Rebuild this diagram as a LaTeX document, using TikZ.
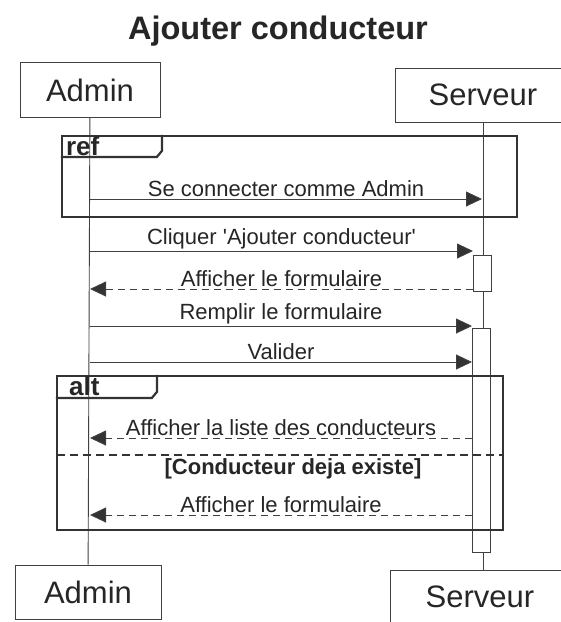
\documentclass[tikz,border=0pt]{standalone}
\usepackage{fontspec}
\setmainfont{Liberation Sans}
\usetikzlibrary{arrows.meta}
\tikzset{
  lifebox/.style={draw=black!75, line width=0.9pt, fill=white, inner sep=0pt,
    text=black!85, font=\fontsize{31}{36}\selectfont},
  frame/.style={draw=black!80, line width=2.2pt, inner sep=0pt},
  act/.style={draw=black!75, line width=0.9pt, fill=white, inner sep=0pt, minimum width=18pt},
  msg/.style={draw=black!75, line width=0.9pt, -{Triangle[length=16pt, width=15pt, fill=black!80]}},
  reply/.style={msg, dash pattern=on 7pt off 5pt},
  lbl/.style={text=black!85, inner sep=1.5pt, font=\fontsize{22}{26}\selectfont},
  tag/.style={text=black!85, inner sep=0pt, font=\bfseries\fontsize{26}{30}\selectfont}
}

\begin{document}
\begin{tikzpicture}[x=1pt, y=-1pt]
  \useasboundingbox[fill=white] (0,0) rectangle (561,622);

  \node[text=black!85, font=\bfseries\fontsize{32.5}{38}\selectfont] at (278,31) (title) {Ajouter conducteur};

  % participants
  \node[lifebox, minimum width=140pt, minimum height=55pt] at (90,90) (admin_top) {Admin};
  \node[lifebox, minimum width=176pt, minimum height=54pt] at (483,95) (srv_top) {Serveur};
  \node[lifebox, minimum width=146pt, minimum height=54pt] at (88,592) (admin_bot) {Admin};
  \node[lifebox, minimum width=180pt, minimum height=54pt] at (480,597) (srv_bot) {Serveur};

  \draw[black!75, line width=0.9pt] (admin_top) -- (admin_bot);
  \draw[black!75, line width=0.9pt] (srv_top.south) -- (srv_top.south |- srv_bot.north);

  % ref frame
  \node[frame, minimum width=455pt, minimum height=81pt] at (289.5,176.5) (ref_frame) {};
  \draw[frame] (ref_frame.north west) ++(0,22) -- ++(96,0) -- ++(5,-6) -- ++(0,-16);
  \node[tag, anchor=north west] at ([shift={(5,2)}]ref_frame.north west) (ref_tag) {ref};

  % activations
  \node[act, minimum height=36pt] at (482,273) (act_one) {};
  \node[act, minimum height=224pt] at (481,440) (act_two) {};

  % alt frame
  \node[frame, minimum width=446pt, minimum height=154pt] at (280,453) (alt_frame) {};
  \draw[frame] (alt_frame.north west) ++(0,23) -- ++(96,0) -- ++(5,-6) -- ++(0,-17);
  \node[tag, anchor=north west] at ([shift={(13,2)}]alt_frame.north west) (alt_tag) {alt};
  \coordinate (sep_l) at (57,455);
  \coordinate (sep_r) at (503,455);
  \draw[black!80, line width=1.8pt, dash pattern=on 8pt off 5pt] (sep_l) -- (sep_r);
  \node[tag, font=\bfseries\fontsize{22}{26}\selectfont] at (293,469) (guard) {[Conducteur deja existe]};

  % message ends
  \coordinate (adm_1) at (90,199);  \coordinate (srv_1) at (482,199);
  \coordinate (adm_2) at (90,251);  \coordinate (srv_2) at (473,251);
  \coordinate (adm_3) at (90,289);  \coordinate (srv_3) at (473,289);
  \coordinate (adm_4) at (90,326);  \coordinate (srv_4) at (472,326);
  \coordinate (adm_5) at (90,362);  \coordinate (srv_5) at (472,362);
  \coordinate (adm_6) at (90,438);  \coordinate (srv_6) at (472,438);
  \coordinate (adm_7) at (90,515);  \coordinate (srv_7) at (472,515);

  \draw[msg] (adm_1) -- node[lbl, above] {Se connecter comme Admin} (srv_1);
  \draw[msg] (adm_2) -- node[lbl, above] {Cliquer \textquotesingle Ajouter conducteur\textquotesingle} (srv_2);
  \draw[reply] (srv_3) -- node[lbl, above] {Afficher le formulaire} (adm_3);
  \draw[msg] (adm_4) -- node[lbl, above] {Remplir le formulaire} (srv_4);
  \draw[msg] (adm_5) -- node[lbl, above] {Valider} (srv_5);
  \draw[reply] (srv_6) -- node[lbl, above] {Afficher la liste des conducteurs} (adm_6);
  \draw[reply] (srv_7) -- node[lbl, above] {Afficher le formulaire} (adm_7);
\end{tikzpicture}
\end{document}
